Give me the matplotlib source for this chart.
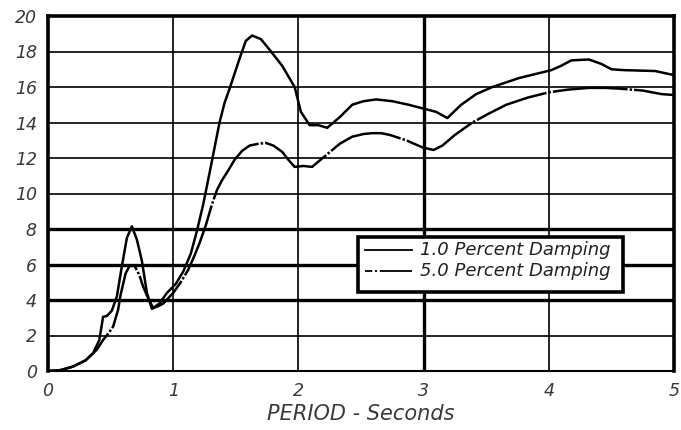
import matplotlib
matplotlib.use("Agg")
import matplotlib.pyplot as plt
from matplotlib.patches import Rectangle

# Data
period_1 = [0, 0.1, 0.2, 0.3, 0.36, 0.41, 0.44, 0.47, 0.51, 0.55, 0.59, 0.63, 0.67, 0.71,
            0.75, 0.79, 0.83, 0.89, 0.95, 1.02, 1.08, 1.14, 1.19, 1.24, 1.30, 1.37, 1.41,
            1.45, 1.53, 1.58, 1.63, 1.70, 1.77, 1.87, 1.97, 2.02, 2.09, 2.16, 2.23, 2.33,
            2.43, 2.52, 2.62, 2.75, 2.88, 2.99, 3.10, 3.19, 3.30, 3.42, 3.55, 3.76, 4.02,
            4.10, 4.18, 4.32, 4.42, 4.50, 4.60, 4.85, 4.98, 5.0]
damp_1 = [0, 0.05, 0.25, 0.6, 1.0, 1.75, 3.05, 3.1, 3.4, 4.2, 5.9, 7.5, 8.15, 7.4,
          6.2, 4.4, 3.5, 3.8, 4.4, 4.9, 5.6, 6.6, 7.9, 9.4, 11.5, 14.0, 15.1,
          15.9, 17.6, 18.6, 18.9, 18.7, 18.1, 17.2, 16.0, 14.6, 13.85, 13.85, 13.7, 14.3,
          15.0, 15.2, 15.3, 15.2, 15.0, 14.8, 14.6, 14.25, 15.0, 15.6, 16.0, 16.5, 16.95,
          17.2, 17.5, 17.55, 17.3, 17.0, 16.95, 16.9, 16.7, 16.7]

period_5 = [0, 0.1, 0.2, 0.3, 0.39, 0.44, 0.48, 0.52, 0.56, 0.58, 0.62, 0.65, 0.69, 0.73,
            0.76, 0.80, 0.84, 0.88, 0.92, 1.0, 1.06, 1.12, 1.17, 1.21, 1.26, 1.31, 1.35,
            1.39, 1.44, 1.49, 1.55, 1.61, 1.68, 1.74, 1.80, 1.87, 1.92, 1.97, 2.04, 2.11,
            2.16, 2.22, 2.33, 2.43, 2.52, 2.59, 2.66, 2.73, 2.86, 2.99, 3.08, 3.15, 3.25,
            3.39, 3.52, 3.66, 3.83, 4.0, 4.15, 4.32, 4.45, 4.58, 4.75, 4.90, 5.0]
damp_5 = [0, 0.05, 0.25, 0.6, 1.2, 1.75, 2.1, 2.5, 3.45, 4.3, 5.5, 5.9, 5.95, 5.4,
          4.75, 4.1, 3.55, 3.65, 3.8, 4.4, 5.0, 5.7, 6.5, 7.2, 8.2, 9.4, 10.2,
          10.75, 11.3, 11.9, 12.4, 12.7, 12.8, 12.85, 12.7, 12.35, 11.9, 11.5, 11.55, 11.5,
          11.8, 12.15, 12.8, 13.2, 13.35, 13.4, 13.4, 13.3, 13.0, 12.6, 12.45, 12.7, 13.3,
          14.0, 14.5, 15.0, 15.4, 15.7, 15.85, 15.95, 15.95, 15.9, 15.8, 15.6, 15.55]

x_ticks = [0, 1, 2, 3, 4, 5]
y_ticks = [0, 2, 4, 6, 8, 10, 12, 14, 16, 18, 20]
heavy_y = [4, 6, 8]
heavy_x = [3]
legend_labels = ["1.0 Percent Damping", "5.0 Percent Damping"]
x_label = "PERIOD - Seconds"

FONT = "DejaVu Sans"

fig = plt.figure(figsize=(6.81, 4.30), dpi=100)
ax = fig.add_axes([48/681, 59/430, 626/681, 355/430])
ax.set_xlim(0, 5)
ax.set_ylim(0, 20)

# grid
for y in y_ticks[1:-1]:
    ax.axhline(y, color="black", lw=2.4 if y in heavy_y else 1.2, zorder=1)
for x in x_ticks[1:-1]:
    ax.axvline(x, color="black", lw=2.4 if x in heavy_x else 1.2, zorder=1)

ax.plot(period_1, damp_1, color="black", lw=1.8, zorder=3)
ax.plot(period_5, damp_5, color="black", lw=1.8, zorder=3,
        dashes=(30, 0.8, 1.0, 0.8))

for name, s in ax.spines.items():
    s.set_linewidth(1.5 if name == "bottom" else 2.6)
    s.set_zorder(5)

ax.set_xticks(x_ticks)
ax.set_yticks(y_ticks)
ax.tick_params(length=0, pad=8)
for lab in ax.get_xticklabels() + ax.get_yticklabels():
    lab.set_fontfamily(FONT)
    lab.set_fontstyle("italic")
    lab.set_fontsize(12.5)
    lab.set_color("#3a3a3a")
ax.set_xlabel(x_label, fontfamily=FONT, fontstyle="italic", fontsize=15,
              color="#3a3a3a", labelpad=3)

# legend box (text clipped by box, as in reference)
rect = Rectangle((2.48, 4.45), 2.11, 3.12, facecolor="white", edgecolor="black",
                 lw=2.6, zorder=6)
ax.add_patch(rect)
ax.plot([2.53, 2.91], [6.82, 6.82], color="black", lw=1.3, zorder=7)
ax.plot([2.53, 2.91], [5.62, 5.62], color="black", lw=1.3, zorder=7,
        dashes=(4, 1.5, 1.2, 1.5, 40, 0))
for lbl, yy in zip(legend_labels, [6.82, 5.62]):
    t = ax.text(2.97, yy, lbl, fontfamily=FONT, fontstyle="italic", fontsize=13,
                color="#222222", va="center", ha="left", zorder=7)
    t.set_clip_path(rect)

fig.savefig("out.png", dpi=100)
